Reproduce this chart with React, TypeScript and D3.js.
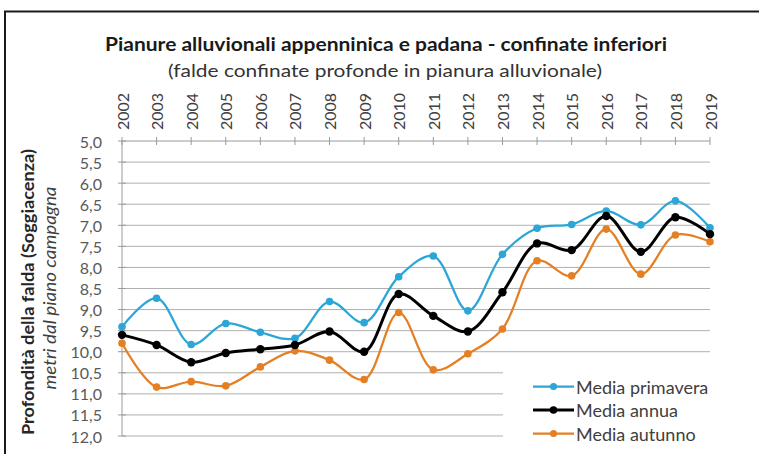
import React from "react";
import * as d3 from "d3";

const years = [2002, 2003, 2004, 2005, 2006, 2007, 2008, 2009, 2010, 2011, 2012, 2013, 2014, 2015, 2016, 2017, 2018, 2019];
const primavera = [9.41, 8.73, 9.83, 9.33, 9.54, 9.68, 8.81, 9.31, 8.22, 7.73, 9.03, 7.69, 7.07, 6.98, 6.66, 6.99, 6.42, 7.06];
const annua = [9.6, 9.84, 10.25, 10.03, 9.94, 9.84, 9.52, 10.0, 8.63, 9.15, 9.52, 8.59, 7.43, 7.59, 6.78, 7.63, 6.81, 7.21];
const autunno = [9.8, 10.84, 10.71, 10.81, 10.36, 9.98, 10.2, 10.66, 9.07, 10.43, 10.05, 9.46, 7.84, 8.2, 7.09, 8.16, 7.23, 7.39];
const yTicks = [5, 5.5, 6, 6.5, 7, 7.5, 8, 8.5, 9, 9.5, 10, 10.5, 11, 11.5, 12];

const seriesNames = ["Media primavera", "Media annua", "Media autunno"];
const seriesColors = ["#2ba6d6", "#000000", "#e47f24"];

const FONT = "Lato, 'Open Sans', sans-serif";

export default function App() {
  const W = 759, H = 454;
  const x = d3.scaleLinear().domain([2002, 2019]).range([122, 710]);
  const y = d3.scaleLinear().domain([5, 12]).range([141, 436]);
  const line = d3
    .line<number>()
    .x((_, i) => x(years[i]))
    .y((d) => y(d))
    .curve(d3.curveCatmullRom.alpha(0.5));

  const fmt = (v: number) => v.toFixed(1).replace(".", ",");
  const series = [
    { name: seriesNames[0], data: primavera, color: seriesColors[0], w: 2.25, r: 3.8 },
    { name: seriesNames[2], data: autunno, color: seriesColors[2], w: 2.25, r: 3.8 },
    { name: seriesNames[1], data: annua, color: seriesColors[1], w: 3, r: 4.2 },
  ];
  const legendRows = [
    { name: seriesNames[0], color: seriesColors[0], w: 2.25, r: 3.5 },
    { name: seriesNames[1], color: seriesColors[1], w: 3, r: 3.8 },
    { name: seriesNames[2], color: seriesColors[2], w: 2.25, r: 3.5 },
  ];
  const gridColor = "#b0b0b0";
  const axisColor = "#9a9a9a";

  return (
    <svg width={W} height={H} style={{ position: "absolute", left: 0, top: 0, background: "#fff" }} fontFamily={FONT}>
      <rect x={0} y={0} width={W} height={H} fill="#fff" />
      <rect x={5} y={11.5} width={800} height={500} fill="#fff" stroke="#1a1a1a" strokeWidth={2} />

      {/* title */}
      <text x={386} y={43} textAnchor="middle" dominantBaseline="central" fontWeight="bold" fontSize={19} fill="#1a1a1a" textLength={562} lengthAdjust="spacingAndGlyphs">
        Pianure alluvionali  appenninica e padana - confinate inferiori
      </text>
      <text x={385} y={70} textAnchor="middle" dominantBaseline="central" fontSize={18} fill="#333" textLength={434} lengthAdjust="spacingAndGlyphs">
        (falde confinate profonde in pianura alluvionale)
      </text>

      {/* gridlines */}
      {yTicks.slice(1).map((t) => (
        <line key={t} x1={122} x2={710} y1={y(t)} y2={y(t)} stroke={gridColor} strokeWidth={1} />
      ))}

      {/* y axis */}
      <line x1={122} x2={122} y1={141} y2={436} stroke={axisColor} strokeWidth={1} />
      {yTicks.map((t) => (
        <line key={"yt" + t} x1={118} x2={126} y1={y(t)} y2={y(t)} stroke={axisColor} />
      ))}
      {yTicks.map((t) => (
        <text key={"yl" + t} x={102} y={y(t)} textAnchor="end" dominantBaseline="central" fontSize={16} fill="#595959">
          {fmt(t)}
        </text>
      ))}

      {/* x axis at top */}
      <line x1={122} x2={710} y1={141} y2={141} stroke={axisColor} strokeWidth={1} />
      {years.map((yr) => (
        <line key={"xt" + yr} x1={x(yr)} x2={x(yr)} y1={137} y2={145} stroke={axisColor} />
      ))}
      {years.map((yr) => (
        <text
          key={"xl" + yr}
          transform={`translate(${x(yr)},130) rotate(-90)`}
          textAnchor="start"
          dominantBaseline="central"
          fontSize={16}
          fill="#404040"
        >
          {yr}
        </text>
      ))}

      {/* axis titles */}
      <text transform="translate(27,292) rotate(-90)" textAnchor="middle" dominantBaseline="central" fontWeight="bold" fontSize={17} fill="#262626" textLength={286} lengthAdjust="spacingAndGlyphs">
        Profondità della falda (Soggiacenza)
      </text>
      <text transform="translate(50,288) rotate(-90)" textAnchor="middle" dominantBaseline="central" fontStyle="italic" fontSize={16.5} fill="#404040" textLength={203} lengthAdjust="spacingAndGlyphs">
        metri dal piano campagna
      </text>

      {/* legend background */}
      <rect x={503} y={364} width={215} height={86} fill="#fff" />

      {/* series */}
      {series.map((s) => (
        <g key={s.name}>
          <path d={line(s.data) || ""} fill="none" stroke={s.color} strokeWidth={s.w} strokeLinejoin="round" />
          {s.data.map((v, i) => (
            <circle key={i} cx={x(years[i])} cy={y(v)} r={s.r} fill={s.color} />
          ))}
        </g>
      ))}

      {/* legend */}
      {legendRows.map((r, i) => {
        const cy = 386.5 + i * 23.5;
        return (
          <g key={r.name}>
            <line x1={533} x2={574} y1={cy} y2={cy} stroke={r.color} strokeWidth={r.w} />
            <circle cx={553.5} cy={cy} r={r.r} fill={r.color} />
            <text x={576} y={cy} dominantBaseline="central" fontSize={18} fill="#404040">
              {r.name}
            </text>
          </g>
        );
      })}
    </svg>
  );
}
